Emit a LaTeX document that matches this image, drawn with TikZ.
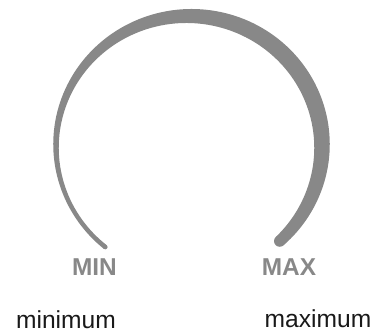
\documentclass[tikz,border=0pt]{standalone}
\usepackage{fontspec}
\setmainfont{Liberation Sans}
\usetikzlibrary{positioning}
\definecolor{dialgray}{RGB}{136,136,136}
\definecolor{captionblack}{RGB}{25,25,25}

\begin{document}
\begin{tikzpicture}[x=0.5pt, y=-0.5pt,
  declare function={dialw(\t)=10.5+5*cos(\t)+3.5*sin(\t);},
  every node/.style={inner sep=0pt, anchor=base},
  endlabel/.style={font=\bfseries\fontsize{12.2}{13}\selectfont, text=dialgray},
  caption/.style={font=\fontsize{12.3}{14}\selectfont, text=captionblack}]
  \useasboundingbox (0,0) rectangle (375,334);
  % tapered arc, thin at MIN and thick at MAX
  \fill[dialgray] plot[domain=231:-47, samples=140] ({189+(133+dialw(\x)/2)*cos(\x)}, {146-(130+dialw(\x)/2)*sin(\x)})
    -- plot[domain=-47:231, samples=140] ({189+(133-dialw(\x)/2)*cos(\x)}, {146-(130-dialw(\x)/2)*sin(\x)}) -- cycle;
  \fill[dialgray] ({189+133*cos(231)}, {146-130*sin(231)}) circle[radius=1.15pt];
  \fill[dialgray] ({189+133*cos(-47)}, {146-130*sin(-47)}) circle[radius=2.85pt];
  \node[endlabel] (min) at (94.5,275) {MIN};
  \node[endlabel] (max) at (289,275) {MAX};
  \node[caption] (minimum) at (66,328) {minimum};
  \node[caption] (maximum) at (318,327) {maximum};
\end{tikzpicture}
\end{document}
